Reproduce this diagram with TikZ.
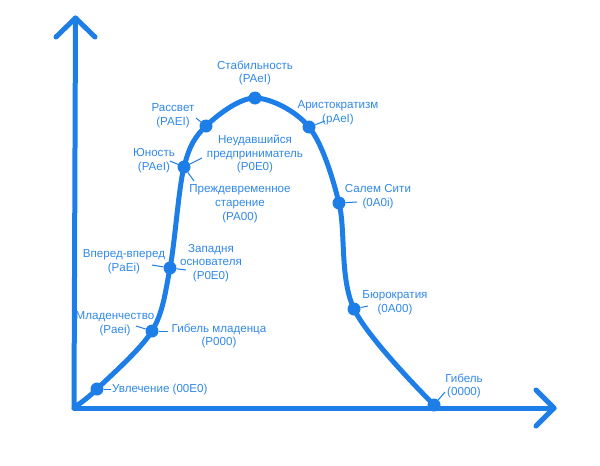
\documentclass[tikz,border=0pt]{standalone}
\usepackage{fontspec}
\setmainfont{Liberation Sans}
\definecolor{lc}{RGB}{30,126,232}
\definecolor{tc}{RGB}{48,136,234}
\begin{document}
\begin{tikzpicture}[x=1pt,y=-1pt,
  axis/.style={line width=5pt,draw=lc,line cap=round,line join=round},
  curve/.style={line width=5pt,draw=lc,line cap=round},
  dot/.style={circle,fill=lc,inner sep=0pt,minimum size=13pt},
  lbl/.style={text=tc,font=\fontsize{11.6}{13.8}\selectfont,align=center,inner sep=0pt},
  tick/.style={draw=lc,line width=1pt}]
\useasboundingbox (0,0) rectangle (600,466);
% axes
\coordinate (O) at (74,408);
\coordinate (Ytip) at (75.5,18);
\coordinate (Xtip) at (554,408);
\draw[axis] (O) -- (Ytip);
\draw[axis] (56,37) -- (Ytip) -- (95,37);
\draw[axis] (O) -- (Xtip);
\draw[axis] (536,390) -- (Xtip) -- (536,426);
% curve
\draw[curve] plot[smooth,tension=0.55] coordinates {(76,406) (97,389) (152,331) (170,268) (184,167) (206,126) (255,98) (309,127) (339,203) (354,309) (434,405)};
% dots
\node[dot] (d1) at (97,389) {};
\node[dot] (d2) at (152,331) {};
\node[dot] (d3) at (170,268) {};
\node[dot] (d4) at (184,167) {};
\node[dot] (d5) at (206,126) {};
\node[dot] (d6) at (255,98) {};
\node[dot] (d7) at (309,127) {};
\node[dot] (d8) at (339,203) {};
\node[dot] (d9) at (354,309) {};
\node[dot] (d10) at (434,405) {};
% labels
\node[lbl,anchor=west] (l1) at (112,389) {Увлечение (00E0)};
\node[lbl] (l2) at (115,324) {Младенчество\\(Paei)};
\node[lbl] (l3) at (219,336) {Гибель младенца\\(P000)};
\node[lbl] (l4) at (211,263) {Западня\\основателя\\(P0E0)};
\node[lbl] (l5) at (124,262) {Вперед-вперед\\(PaEi)};
\node[lbl] (l6) at (154,161) {Юность\\(PAeI)};
\node[lbl] (l7) at (255,154) {Неудавшийся\\предприниматель\\(P0E0)};
\node[lbl] (l8) at (240,204) {Преждевременное\\старение\\(PA00)};
\node[lbl] (l9) at (173,116) {Рассвет\\(PAEI)};
\node[lbl] (l10) at (255,73) {Стабильность\\(PAeI)};
\node[lbl] (l11) at (338,113) {Аристократизм\\(pAeI)};
\node[lbl] (l12) at (378,197) {Салем Сити\\(0A0i)};
\node[lbl] (l13) at (395,303) {Бюрократия\\(0A00)};
\node[lbl] (l14) at (464,386) {Гибель\\(0000)};
% ticks
\coordinate (t1) at (111,389);
\draw[tick] (d1) -- (t1);
\coordinate (t2) at (136,326);
\draw[tick] (d2) -- (t2);
\coordinate (t3) at (168,331);
\draw[tick] (d2) -- (t3);
\coordinate (t4) at (186,270);
\draw[tick] (d3) -- (t4);
\coordinate (t5) at (152,265);
\draw[tick] (d3) -- (t5);
\coordinate (t6) at (170,161);
\draw[tick] (d4) -- (t6);
\coordinate (t7) at (202,158);
\draw[tick] (d4) -- (t7);
\coordinate (t8) at (194,181);
\draw[tick] (d4) -- (t8);
\coordinate (t9) at (196,118);
\draw[tick] (d5) -- (t9);
\coordinate (t11) at (325,121);
\draw[tick] (d7) -- (t11);
\coordinate (t12) at (357,202);
\draw[tick] (d8) -- (t12);
\coordinate (t13) at (368,306);
\draw[tick] (d9) -- (t13);
\coordinate (t14) at (445,392);
\draw[tick] (d10) -- (t14);
\end{tikzpicture}
\end{document}
